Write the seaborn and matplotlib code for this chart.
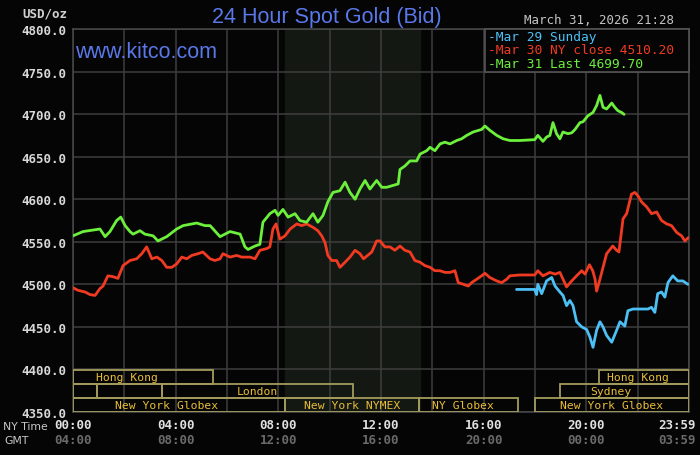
import numpy as np
import pandas as pd
import matplotlib
matplotlib.use("Agg")
import matplotlib.pyplot as plt
from matplotlib.patches import Rectangle
import seaborn as sns

# ---------------- data (hours NY time, USD/oz) ----------------
green_h = [0.0, 0.39, 1.05, 1.25, 1.44, 1.70, 1.86, 2.03, 2.22, 2.34, 2.61, 2.80, 3.12, 3.31,
           3.65, 3.78, 4.04, 4.29, 4.82, 5.14, 5.34, 5.73, 5.92, 6.12, 6.51, 6.70, 6.82, 7.09,
           7.28, 7.40, 7.67, 7.87, 7.99, 8.18, 8.38, 8.65, 8.84, 9.10, 9.35, 9.54, 9.74, 9.93,
           10.13, 10.40, 10.60, 10.79, 10.99, 11.18, 11.38, 11.57, 11.83, 12.03, 12.22, 12.67,
           12.74, 12.93, 13.13, 13.39, 13.52, 13.78, 13.91, 14.10, 14.30, 14.49, 14.69, 14.95,
           15.14, 15.34, 15.59, 15.92, 16.05, 16.24, 16.51, 16.76, 17.02, 17.41, 17.99, 18.11,
           18.31, 18.45, 18.58, 18.70, 18.84, 18.97, 19.09, 19.28, 19.43, 19.56, 19.75, 19.87,
           20.06, 20.26, 20.40, 20.53, 20.65, 20.79, 20.99, 21.11, 21.23, 21.37, 21.47]
green_p = [4557, 4562, 4565, 4556, 4562, 4575, 4579, 4569, 4562, 4559, 4563, 4559, 4557, 4551,
           4556, 4559, 4565, 4569, 4572, 4569, 4569, 4556, 4559, 4562, 4559, 4544, 4541, 4545,
           4547, 4573, 4583, 4587, 4581, 4588, 4579, 4583, 4575, 4573, 4583, 4573, 4581, 4597,
           4608, 4610, 4620, 4608, 4600, 4612, 4622, 4612, 4622, 4614, 4614, 4618,
           4635, 4639, 4645, 4645, 4653, 4657, 4661, 4657, 4665, 4667, 4665, 4669,
           4671, 4675, 4679, 4682, 4686, 4681, 4675, 4671, 4669, 4669, 4670, 4675,
           4668, 4673, 4675, 4690, 4677, 4671, 4679, 4677, 4678, 4682, 4690, 4691,
           4698, 4702, 4710, 4722, 4708, 4706, 4713, 4708, 4704, 4702, 4699.7]

red_h = [0.0, 0.19, 0.47, 0.66, 0.86, 1.05, 1.17, 1.36, 1.56, 1.75, 1.95, 2.22, 2.48, 2.68,
         2.87, 3.07, 3.27, 3.46, 3.65, 3.85, 4.04, 4.24, 4.43, 4.63, 4.87, 5.06, 5.34, 5.53,
         5.73, 5.84, 6.12, 6.38, 6.57, 6.90, 7.09, 7.28, 7.55, 7.67, 7.79, 7.91, 8.06, 8.26,
         8.46, 8.72, 8.91, 9.10, 9.35, 9.54, 9.69, 9.82, 9.93, 10.08, 10.27, 10.40, 10.60,
         10.79, 10.99, 11.18, 11.32, 11.64, 11.83, 11.96, 12.15, 12.35, 12.54, 12.74, 12.93,
         13.13, 13.32, 13.52, 13.71, 13.91, 14.10, 14.30, 14.49, 14.69, 14.88, 15.01, 15.21,
         15.40, 15.53, 15.73, 15.92, 16.05, 16.24, 16.51, 16.70, 16.90, 17.02, 17.41, 17.99,
         18.11, 18.31, 18.58, 18.78, 18.97, 19.23, 19.43, 19.62, 19.82, 19.95, 20.12, 20.25,
         20.34, 20.40, 20.53, 20.79, 21.03, 21.18, 21.27, 21.43, 21.57, 21.76, 21.89, 22.01,
         22.15, 22.35, 22.54, 22.74, 22.93, 23.13, 23.32, 23.52, 23.71, 23.84, 23.98]
red_p = [4496, 4493, 4491, 4488, 4487, 4495, 4498, 4510, 4509, 4507, 4522, 4528, 4530, 4536,
         4544, 4530, 4532, 4528, 4520, 4520, 4524, 4532, 4530, 4534, 4536, 4538, 4530, 4528,
         4530, 4536, 4532, 4534, 4532, 4532, 4530, 4540, 4542, 4544, 4565, 4571, 4553, 4557,
         4565, 4571, 4569, 4571, 4567, 4563, 4557, 4549, 4534, 4528, 4528, 4520, 4526,
         4532, 4540, 4536, 4530, 4538, 4551, 4551, 4544, 4544, 4540, 4545, 4540,
         4538, 4528, 4526, 4522, 4520, 4516, 4516, 4514, 4514, 4516, 4502, 4500,
         4498, 4502, 4506, 4510, 4513, 4508, 4504, 4502, 4506, 4510, 4511, 4511,
         4516, 4510, 4514, 4512, 4514, 4497, 4504, 4510, 4516, 4512, 4523, 4516,
         4506, 4492, 4506, 4536, 4545, 4540, 4538, 4577, 4583, 4606, 4608, 4604,
         4597, 4591, 4583, 4585, 4575, 4571, 4569, 4561, 4557, 4551, 4555]

blue_h = [17.28, 17.99, 18.06, 18.11, 18.26, 18.45, 18.65, 18.78, 18.97, 19.09, 19.23, 19.36,
          19.48, 19.62, 19.82, 20.01, 20.14, 20.26, 20.40, 20.53, 20.65, 20.79, 20.99, 21.18,
          21.31, 21.50, 21.62, 21.82, 22.09, 22.40, 22.54, 22.67, 22.78, 22.93, 23.06, 23.18,
          23.37, 23.56, 23.76, 23.96]
blue_p = [4494, 4494, 4488, 4500, 4489, 4504, 4508, 4498, 4491, 4487, 4475, 4481,
          4475, 4456, 4450, 4447, 4438, 4426, 4446, 4456, 4450, 4440, 4432, 4446,
          4456, 4451, 4469, 4471, 4471, 4471, 4473, 4467, 4489, 4491, 4485, 4502,
          4510, 4504, 4504, 4500]

y_ticks = [4350, 4400, 4450, 4500, 4550, 4600, 4650, 4700, 4750, 4800]
ny_labels = ["00:00", "04:00", "08:00", "12:00", "16:00", "20:00", "23:59"]
gmt_labels = ["04:00", "08:00", "12:00", "16:00", "20:00", "00:00", "03:59"]
label_hours = [0, 4, 8, 12, 16, 20, 23.55]
legend_texts = ["-Mar 29 Sunday", "-Mar 30 NY close 4510.20", "-Mar 31 Last 4699.70"]

# session boxes: (row, start_h, end_h, label, label_center_h)
sessions = [
    (0, 0.0, 5.45, "Hong Kong", 2.10),
    (0, 20.49, 24.0, "Hong Kong", 22.0),
    (1, 0.0, 0.93, "", 0),
    (1, 0.93, 3.47, "", 0),
    (1, 3.47, 10.90, "London", 7.17),
    (1, 18.97, 24.0, "Sydney", 20.96),
    (2, 0.0, 8.26, "New York Globex", 3.63),
    (2, 8.26, 13.48, "New York NYMEX", 10.87),
    (2, 13.48, 17.34, "NY Globex", 15.18),
    (2, 18.0, 24.0, "New York Globex", 21.0),
]
nymex_shade = (8.26, 13.52)

# ---------------- figure ----------------
sns.set_theme(style="dark")
plt.rcParams['font.family'] = ['DejaVu Sans']
W, H = 700, 456
fig = plt.figure(figsize=(W / 100, H / 100), dpi=100, facecolor="#050505")
L, R, T, B = 73, 689, 30, 413
ax = fig.add_axes([L / W, 1 - B / H, (R - L) / W, (B - T) / H])
ax.set_facecolor("#050505")
ax.set_xlim(0, 24)
ax.set_ylim(4350, 4800)

def fx(px):
    return px / W

def fy(py):
    return 1 - py / H

# grid
for h in range(0, 25, 2):
    ax.axvline(h, color="#3e3e3e", lw=1.1, zorder=1)
for v in y_ticks:
    ax.axhline(v, color="#3e3e3e", lw=1.1, zorder=1)
ax.axvspan(*nymex_shade, color="#141813", zorder=0)

# lines
mono = "DejaVu Sans Mono"
c_blue, c_red, c_green = "#4cc0f5", "#f03a22", "#6cf03c"
sns.lineplot(x=red_h, y=red_p, color=c_red, lw=2.0, ax=ax, zorder=4, estimator=None, sort=False)
sns.lineplot(x=green_h, y=green_p, color=c_green, lw=2.0, ax=ax, zorder=4, estimator=None, sort=False)
sns.lineplot(x=blue_h, y=blue_p, color=c_blue, lw=2.0, ax=ax, zorder=5, estimator=None, sort=False)

# session boxes
row_bounds = [(4383.2, 4399.2), (4366.5, 4383.2), (4350.5, 4366.5)]
for row, s, e, lab, cx in sessions:
    y0, y1 = row_bounds[row]
    ax.add_patch(Rectangle((s, y0), e - s, y1 - y0, fill=False, ec="#a39b5c",
                           lw=1.3, zorder=3))
    if lab:
        ax.text(cx, (y0 + y1) / 2, lab, color="#e8be38", fontsize=8.2, family=mono,
                ha="center", va="center", zorder=6)

# axes styling
ax.set_xticks([])
ax.set_yticks(y_ticks)
ax.set_yticklabels([f"{v:.1f}" for v in y_ticks], family=mono, fontsize=9,
                   color="#d8d8d8", fontweight="bold")
ax.tick_params(axis="y", length=0, pad=5)
ax.grid(False)
for sp in ax.spines.values():
    sp.set_color("#4a4a4a")
    sp.set_linewidth(1.1)
ax.set_xlabel("")
ax.set_ylabel("")

# legend box
lx0, ly0, lx1, ly1 = 485, 30, 689, 73
fig.patches.append(Rectangle((fx(lx0), fy(ly1)), fx(lx1) - fx(lx0), fy(ly0) - fy(ly1),
                             transform=fig.transFigure, fc="#050505", ec="#555555",
                             lw=1.2, zorder=10))
for txt, col, yy in zip(legend_texts, [c_blue, c_red, c_green], [37.5, 51, 65]):
    fig.text(fx(488), fy(yy), txt, color=col, fontsize=9.3, family=mono,
             ha="left", va="center", zorder=11)

# titles and texts
fig.text(fx(327), fy(17), "24 Hour Spot Gold (Bid)", color="#5a78ea", fontsize=15.5,
         family="Liberation Sans", ha="center", va="center")
fig.text(fx(75), fy(53), "www.kitco.com", color="#5a78ea", fontsize=15.5,
         family="Liberation Sans", ha="left", va="center", zorder=6)
fig.text(fx(599), fy(21), "March 31, 2026 21:28", color="#c4c4c4", fontsize=9,
         family=mono, ha="center", va="center")
fig.text(fx(67), fy(14), "USD/oz", color="#d0d0d0", fontsize=9, family=mono,
         ha="right", va="center", fontweight="bold")

# time axis labels
fig.text(fx(48), fy(427), "NY Time", color="#c8c8c8", fontsize=7.8, ha="right", va="center")
fig.text(fx(29), fy(441), "GMT", color="#c8c8c8", fontsize=7.8, ha="right", va="center")
for h, a, b in zip(label_hours, ny_labels, gmt_labels):
    xx = L + h * (R - L) / 24
    fig.text(fx(xx), fy(426), a, color="#e0e0e0", fontsize=9, family=mono,
             ha="center", va="center", fontweight="bold")
    fig.text(fx(xx), fy(441), b, color="#6a6a6a", fontsize=9, family=mono,
             ha="center", va="center", fontweight="bold")

fig.savefig("out.png", dpi=100, facecolor=fig.get_facecolor())
